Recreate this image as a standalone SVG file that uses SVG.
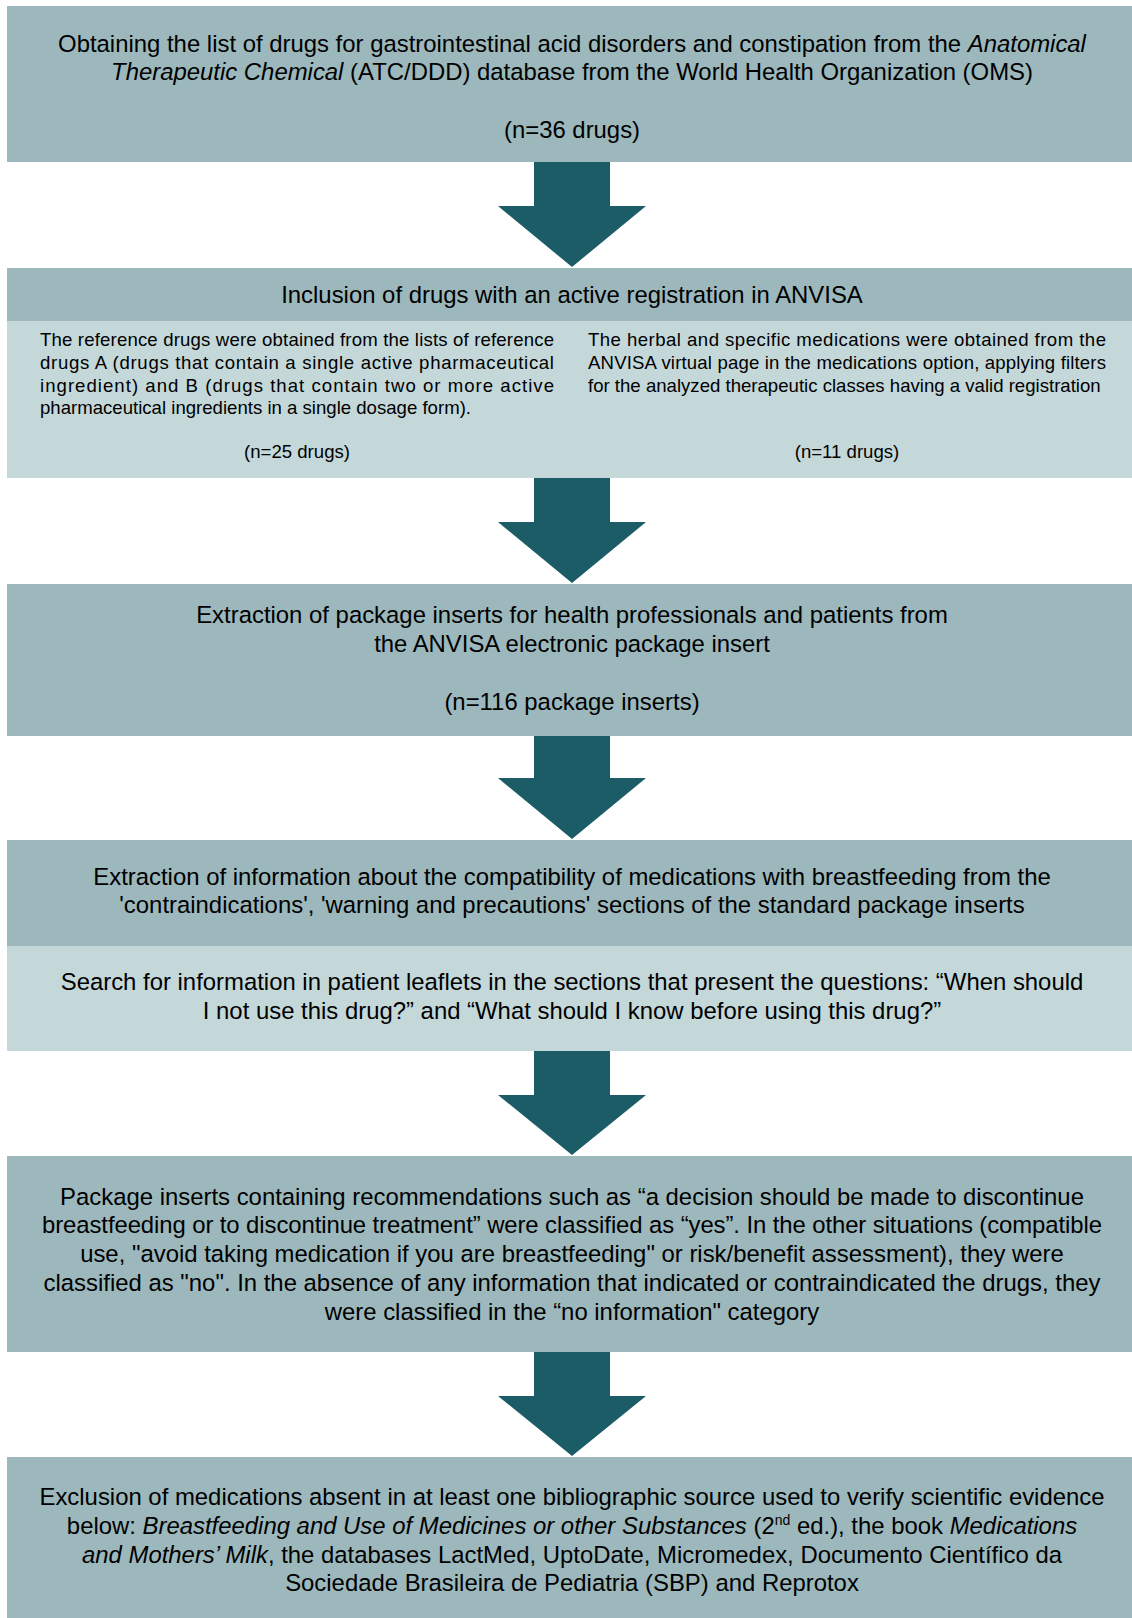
<svg xmlns="http://www.w3.org/2000/svg" width="1132" height="1618" viewBox="0 0 1132 1618">
<style>
.dark{fill:#9cb8bc}
.light{fill:#c4d8da}
.arrow{fill:#1c5c66}
text{font-family:"Liberation Sans",Arial,Helvetica,sans-serif;fill:#000}
.t{font-size:23.9px;text-anchor:middle}
.s{font-size:18.6px}
.sc{font-size:18.6px;text-anchor:middle}
.i{font-style:italic}
</style>
<rect width="1132" height="1618" fill="#fff"/>
<g id="connectors">
<polygon class="arrow" points="534,162 610,162 610,206 646,206 572,267 498,206 534,206"/>
<polygon class="arrow" points="534,478 610,478 610,522 646,522 572,583 498,522 534,522"/>
<polygon class="arrow" points="534,736 610,736 610,778 646,778 572,839 498,778 534,778"/>
<polygon class="arrow" points="534,1051 610,1051 610,1095 646,1095 572,1155 498,1095 534,1095"/>
<polygon class="arrow" points="534,1352 610,1352 610,1396 646,1396 572,1456 498,1396 534,1396"/>
</g>
<g id="node1">
<rect class="dark" x="7" y="6" width="1131" height="156"/>
<text class="t" x="572" y="52">Obtaining the list of drugs for gastrointestinal acid disorders and constipation from the <tspan class="i">Anatomical</tspan></text>
<text class="t" x="572" y="80"><tspan class="i">Therapeutic Chemical</tspan> (ATC/DDD) database from the World Health Organization (OMS)</text>
<text class="t" x="572" y="138">(n=36 drugs)</text>
</g>
<g id="node2">
<rect class="dark" x="7" y="268" width="1131" height="53"/>
<rect class="light" x="7" y="321" width="1131" height="157"/>
<text class="t" x="572" y="303">Inclusion of drugs with an active registration in ANVISA</text>
<text class="s" x="40" y="346" textLength="514" lengthAdjust="spacing">The reference drugs were obtained from the lists of reference</text>
<text class="s" x="40" y="369" textLength="514" lengthAdjust="spacing">drugs A (drugs that contain a single active pharmaceutical</text>
<text class="s" x="40" y="392" textLength="514" lengthAdjust="spacing">ingredient) and B (drugs that contain two or more active</text>
<text class="s" x="40" y="414">pharmaceutical ingredients in a single dosage form).</text>
<text class="sc" x="297" y="458">(n=25 drugs)</text>
<text class="s" x="588" y="346" textLength="518" lengthAdjust="spacing">The herbal and specific medications were obtained from the</text>
<text class="s" x="588" y="369" textLength="518" lengthAdjust="spacing">ANVISA virtual page in the medications option, applying filters</text>
<text class="s" x="588" y="392">for the analyzed therapeutic classes having a valid registration</text>
<text class="sc" x="847" y="458">(n=11 drugs)</text>
</g>
<g id="node3">
<rect class="dark" x="7" y="584" width="1131" height="152"/>
<text class="t" x="572" y="623">Extraction of package inserts for health professionals and patients from</text>
<text class="t" x="572" y="652">the ANVISA electronic package insert</text>
<text class="t" x="572" y="710">(n=116 package inserts)</text>
</g>
<g id="node4">
<rect class="dark" x="7" y="840" width="1131" height="106"/>
<rect class="light" x="7" y="946" width="1131" height="105"/>
<text class="t" x="572" y="885">Extraction of information about the compatibility of medications with breastfeeding from the</text>
<text class="t" x="572" y="913">'contraindications', 'warning and precautions' sections of the standard package inserts</text>
<text class="t" x="572" y="990">Search for information in patient leaflets in the sections that present the questions: “When should</text>
<text class="t" x="572" y="1019">I not use this drug?” and “What should I know before using this drug?”</text>
</g>
<g id="node5">
<rect class="dark" x="7" y="1156" width="1131" height="196"/>
<text class="t" x="572" y="1205">Package inserts containing recommendations such as “a decision should be made to discontinue</text>
<text class="t" x="572" y="1233" textLength="1060" lengthAdjust="spacing">breastfeeding or to discontinue treatment” were classified as “yes”. In the other situations (compatible</text>
<text class="t" x="572" y="1262">use, "avoid taking medication if you are breastfeeding" or risk/benefit assessment), they were</text>
<text class="t" x="572" y="1291">classified as "no". In the absence of any information that indicated or contraindicated the drugs, they</text>
<text class="t" x="572" y="1320">were classified in the “no information" category</text>
</g>
<g id="node6">
<rect class="dark" x="7" y="1457" width="1131" height="161"/>
<text class="t" x="572" y="1505">Exclusion of medications absent in at least one bibliographic source used to verify scientific evidence</text>
<text class="t" x="572" y="1534">below: <tspan class="i">Breastfeeding and Use of Medicines or other Substances</tspan> (2<tspan font-size="14" dy="-9">nd</tspan><tspan dy="9"> ed.), the book </tspan><tspan class="i">Medications</tspan></text>
<text class="t" x="572" y="1563"><tspan class="i">and Mothers’ Milk</tspan>, the databases LactMed, UptoDate, Micromedex, Documento Científico da</text>
<text class="t" x="572" y="1591">Sociedade Brasileira de Pediatria (SBP) and Reprotox</text>
</g>
</svg>
